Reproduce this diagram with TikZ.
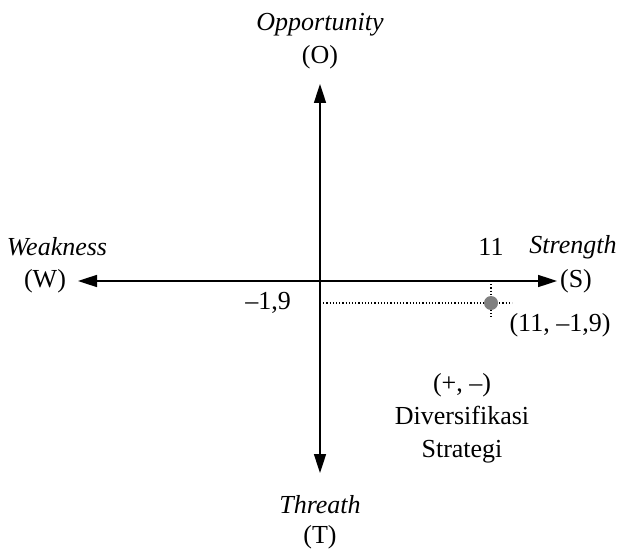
\documentclass[tikz,border=0pt]{standalone}
\usepackage{fontspec}
\setmainfont{Liberation Serif}
\usetikzlibrary{arrows.meta}
\begin{document}
\begin{tikzpicture}[x=1pt,y=-1pt,
  axis/.style={line width=1.6pt,-{Triangle[length=19pt,width=12pt]}},
  guide/.style={line width=1.2pt,dotted},
  lbl/.style={font=\fontsize{26}{33}\selectfont,inner sep=0pt,align=center},
  ilbl/.style={lbl,font=\fontsize{26}{33}\selectfont\itshape}]
\useasboundingbox (0,0) rectangle (626,556);
\coordinate (O) at (320,281);
\coordinate (top) at (320,84);
\coordinate (bot) at (320,473);
\coordinate (lft) at (78,281);
\coordinate (rgt) at (557,281);
\coordinate (dl) at (320,303);
\coordinate (dr) at (512,303);
\coordinate (vt) at (491,281);
\coordinate (vb) at (491,318);
\draw[axis] (O) -- (top);
\draw[axis] (O) -- (bot);
\draw[axis] (O) -- (lft);
\draw[axis] (O) -- (rgt);
\draw[guide] (dl) -- (dr);
\draw[guide] (vt) -- (vb);
\node[circle,fill=gray,minimum size=14pt,inner sep=0pt] (pt) at (491,303) {};
\node[ilbl] (opp) at (320,25) {Opportunity};
\node[lbl] (o) at (320,57) {(O)};
\node[ilbl] (weak) at (57,247) {Weakness};
\node[lbl] (w) at (45,281) {(W)};
\node[lbl] (eleven) at (491,247) {11};
\node[ilbl] (str) at (573,247) {Strength};
\node[lbl] (s) at (576,281) {(S)};
\node[lbl] (neg) at (268,303) {–1,9};
\node[lbl] (coord) at (560,325) {(11, –1,9)};
\node[lbl] (quad) at (462,418) {(+, –)\\Diversifikasi\\Strategi};
\node[ilbl] (thr) at (320,505) {Threath};
\node[lbl] (t) at (320,537) {(T)};
\end{tikzpicture}
\end{document}
